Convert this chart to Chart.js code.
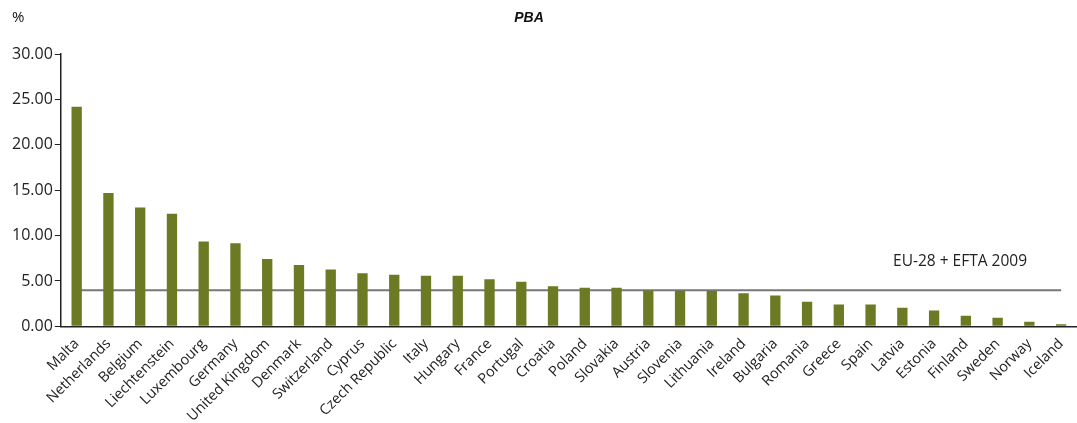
<!DOCTYPE html>
<html lang="en">
<head>
  <meta charset="UTF-8" />
  <title>PBA</title>
  <script src="https://cdn.jsdelivr.net/npm/chart.js"></script>
  <style>
    html, body {
      margin: 0;
      padding: 0;
      background: #fff;
    }

    #wrap {
      width: 1077px;
      height: 423px;
    }
  </style>
</head>
<body>
  <div id="wrap"><canvas id="pbaChart"></canvas></div>
  <script>
    const countries = ['Malta', 'Netherlands', 'Belgium', 'Liechtenstein', 'Luxembourg', 'Germany',
      'United Kingdom', 'Denmark', 'Switzerland', 'Cyprus', 'Czech Republic', 'Italy', 'Hungary',
      'France', 'Portugal', 'Croatia', 'Poland', 'Slovakia', 'Austria', 'Slovenia', 'Lithuania',
      'Ireland', 'Bulgaria', 'Romania', 'Greece', 'Spain', 'Latvia', 'Estonia', 'Finland',
      'Sweden', 'Norway', 'Iceland'];
    const pbaValues = [24.2, 14.7, 13.1, 12.4, 9.35, 9.15, 7.42, 6.75, 6.25, 5.85, 5.67, 5.56, 5.56,
      5.2, 4.9, 4.42, 4.25, 4.25, 3.95, 3.93, 3.88, 3.65, 3.4, 2.72, 2.41, 2.41, 2.05, 1.75, 1.17,
      0.95, 0.51, 0.22];
    const euAverage = 3.97;
    const euLabel = 'EU-28 + EFTA 2009';
    const yTicks = [0, 5, 10, 15, 20, 25, 30];

    const textFont = '"Open Sans", sans-serif';

    // title, unit and the average label are drawn straight onto the canvas
    const extraText = {
      id: 'extraText',
      afterDraw(chart) {
        const ctx = chart.ctx;
        const area = chart.chartArea;
        const y = chart.scales.y;
        ctx.save();
        ctx.fillStyle = '#111';
        ctx.textBaseline = 'middle';

        ctx.font = 'italic bold 14px "Liberation Sans", Arial, sans-serif';
        ctx.textAlign = 'center';
        ctx.fillText('PBA', 529, 18);

        ctx.font = '15px ' + textFont;
        ctx.textAlign = 'left';
        ctx.fillText('%', 12, 18);

        ctx.fillStyle = '#222';
        ctx.font = '15.5px ' + textFont;
        ctx.textAlign = 'right';
        ctx.fillText(euLabel, area.right - 50, y.getPixelForValue(euAverage) - 29);
        ctx.restore();
      }
    };

    const ctx = document.getElementById('pbaChart').getContext('2d');
    new Chart(ctx, {
      data: {
        labels: countries,
        datasets: [{
          type: 'bar',
          label: 'PBA',
          data: pbaValues,
          backgroundColor: '#6b7a23',
          barPercentage: 0.65,
          categoryPercentage: 0.5,
          order: 0
        }, {
          type: 'line',
          label: euLabel,
          data: countries.map(() => euAverage),
          borderColor: '#777',
          borderWidth: 2,
          pointRadius: 0,
          fill: false,
          order: 1
        }]
      },
      plugins: [extraText],
      options: {
        responsive: true,
        maintainAspectRatio: false,
        animation: false,
        layout: { padding: { top: 54, left: 10, right: -3, bottom: -3 } },
        plugins: {
          legend: { display: false },
          tooltip: { enabled: false }
        },
        scales: {
          x: {
            grid: { display: false },
            border: { display: true, color: '#222', width: 1.5 },
            ticks: {
              color: '#222',
              font: { family: textFont, size: 14.5 },
              minRotation: 45,
              maxRotation: 45,
              autoSkip: false,
              padding: 1
            }
          },
          y: {
            min: 0,
            max: 30,
            afterBuildTicks: (scale) => { scale.ticks = yTicks.map(v => ({ value: v })); },
            grid: { drawOnChartArea: false, drawTicks: true, tickLength: 6, color: '#222' },
            border: { display: true, color: '#222', width: 1.5 },
            ticks: {
              color: '#222',
              font: { family: textFont, size: 16 },
              padding: 2,
              callback: (v) => v.toFixed(2)
            }
          }
        }
      }
    });
  </script>
</body>
</html>
